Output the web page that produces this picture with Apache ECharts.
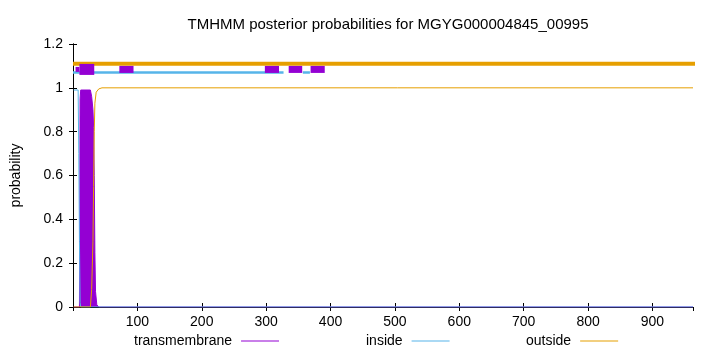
<!DOCTYPE html>
<html>
<head>
<meta charset="utf-8">
<script src="https://cdn.jsdelivr.net/npm/echarts@6/dist/echarts.min.js"></script>
<style>html,body{margin:0;padding:0;background:#fff;}#c{width:720px;height:352px;}</style>
</head>
<body>
<div id="c"></div>
<script>
// ---- data ----
const titleText = 'TMHMM posterior probabilities for MGYG000004845_00995';
const seqLength = 963;
// posterior curves: position / probability
const tmPos  = [1, 10, 11, 12, 27, 29, 31, 32, 33, 34, 35, 37, 40, 963];
const tmProb = [0, 0, 0.95, 0.99, 0.99, 0.96, 0.9, 0.82, 0.6, 0.25, 0.07, 0.01, 0, 0];
const inPos  = [1, 8, 9, 10, 11, 12, 963];
const inProb = [0.99, 0.99, 0.7, 0.3, 0.02, 0, 0];
const outPos  = [1, 27, 29, 31, 32, 33, 34, 36, 40, 45, 963];
const outProb = [0, 0, 0.08, 0.3, 0.55, 0.8, 0.93, 0.98, 0.995, 1, 1];
// topology track segments [start, end]
const outsideSegs = [[0, 1010]];
const insideSegs  = [[0, 327], [357, 368]];
const tmSegs      = [[4, 10], [10, 33], [72, 94], [298, 320], [335, 356], [369, 391]];
const outsideLevel = 1.11, insideLevel = 1.07, tmLevel = 1.084;
const yTicks = [0, 0.2, 0.4, 0.6, 0.8, 1, 1.2];

// ---- styles ----
const C_TM = '#9400d3', C_IN = '#56b4e9', C_OUT = '#e69f00';
const FONT = 'Liberation Sans, Arial, sans-serif';
const tmWidths = [5, 11, 7, 7, 7, 7];

function pairs(xs, ys) { return xs.map((x, i) => [x, ys[i]]); }

const series = [];
// main posterior curves
series.push({
  name: 'transmembrane', type: 'line', data: pairs(tmPos, tmProb), symbol: 'none', smooth: false,
  lineStyle: { color: C_TM, width: 1 }, itemStyle: { color: C_TM },
  areaStyle: { color: C_TM, opacity: 1, origin: 0 }, z: 2, animation: false
});
series.push({
  name: 'inside', type: 'line', data: pairs(inPos, inProb), symbol: 'none', smooth: false,
  lineStyle: { color: C_IN, width: 1 }, itemStyle: { color: C_IN }, z: 3, animation: false
});
series.push({
  name: 'outside', type: 'line', data: pairs(outPos, outProb), symbol: 'none', smooth: false,
  lineStyle: { color: C_OUT, width: 1 }, itemStyle: { color: C_OUT }, z: 4, animation: false
});
// topology track
outsideSegs.forEach((s, i) => series.push({
  name: 'outTrack' + i, type: 'line', data: [[s[0], outsideLevel], [s[1], outsideLevel]],
  symbol: 'none', clip: false, lineStyle: { color: C_OUT, width: 4, cap: 'butt' }, z: 5, animation: false
}));
insideSegs.forEach((s, i) => series.push({
  name: 'inTrack' + i, type: 'line', data: [[s[0], insideLevel], [s[1], insideLevel]],
  symbol: 'none', clip: false, lineStyle: { color: C_IN, width: 2.5, cap: 'butt' }, z: 6, animation: false
}));
tmSegs.forEach((s, i) => series.push({
  name: 'tmTrack' + i, type: 'line', data: [[s[0], tmLevel], [s[1], tmLevel]],
  symbol: 'none', clip: false, lineStyle: { color: C_TM, width: tmWidths[i], cap: 'butt' }, z: 7, animation: false
}));

function legendAt(name, left) {
  return {
    data: [name], left: left, top: 334, align: 'right', padding: 0,
    itemWidth: 38, itemHeight: 1, icon: 'rect',
    textStyle: { fontFamily: FONT, fontSize: 14, color: '#000', padding: [0, 4, 0, 0] },
    selectedMode: false
  };
}

const axisBase = {
  type: 'value', splitLine: { show: false },
  axisLine: { show: true, lineStyle: { color: '#000', width: 1 } },
  axisTick: { show: true, inside: true, length: 4, lineStyle: { color: '#000' } }
};

const option = {
  animation: false,
  backgroundColor: '#fff',
  title: {
    text: titleText, left: 383, top: 12, textAlign: 'center',
    textStyle: { fontFamily: FONT, fontSize: 15, fontWeight: 'normal', color: '#000' }
  },
  legend: [legendAt('transmembrane', 134), legendAt('inside', 366), legendAt('outside', 526)],
  grid: { left: 73, right: 27, top: 44, bottom: 45, show: false },
  xAxis: [
    Object.assign({}, axisBase, {
      min: 0, max: seqLength, interval: 100, position: 'bottom',
      axisLabel: { fontFamily: FONT, fontSize: 14, color: '#000', margin: 8, showMinLabel: false, showMaxLabel: false }
    }),
    Object.assign({}, axisBase, {
      min: 0, max: seqLength, interval: 100, position: 'top',
      axisLabel: { show: false }
    })
  ],
  yAxis: [
    Object.assign({}, axisBase, {
      min: 0, max: 1.2, interval: 0.2, position: 'left',
      name: 'probability', nameLocation: 'middle', nameGap: 50,
      nameTextStyle: { fontFamily: FONT, fontSize: 14, color: '#000' },
      axisLabel: { fontFamily: FONT, fontSize: 14, color: '#000', margin: 10,
        formatter: v => { const t = yTicks.find(k => Math.abs(k - v) < 1e-6); return t === undefined ? '' : String(t); } }
    }),
    Object.assign({}, axisBase, {
      min: 0, max: 1.2, interval: 0.2, position: 'right',
      axisLabel: { show: false }
    })
  ],
  series: series
};

const chart = echarts.init(document.getElementById('c'), null, { renderer: 'canvas' });
chart.setOption(option);
</script>
</body>
</html>
